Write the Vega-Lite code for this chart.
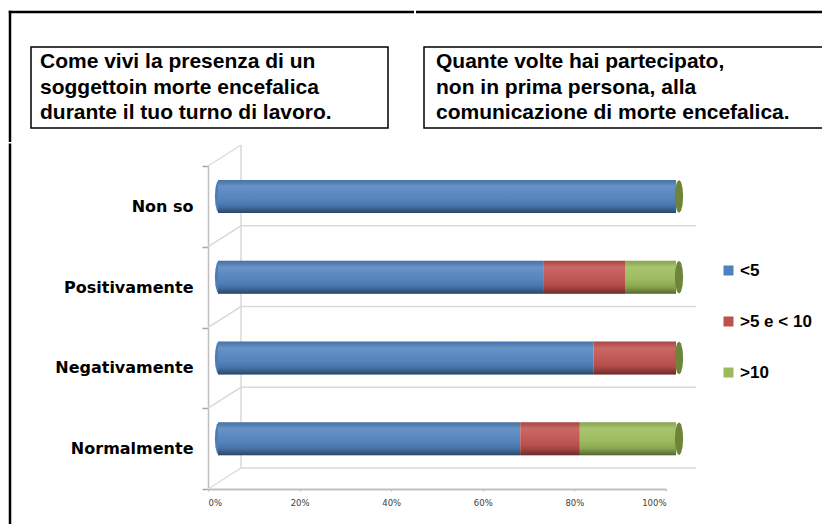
{
  "$schema": "https://vega.github.io/schema/vega-lite/v6.json",
  "padding": {"left": 8, "top": 10, "right": 0, "bottom": 0},
  "background": "white",
  "config": {"view": {"stroke": null}},
  "datasets": {
    "bars": [
      {"cat": "Non so", "series": "<5", "k": 1, "value": 100},
      {"cat": "Non so", "series": ">5 e < 10", "k": 2, "value": 0},
      {"cat": "Non so", "series": ">10", "k": 3, "value": 0},
      {"cat": "Positivamente", "series": "<5", "k": 1, "value": 71},
      {"cat": "Positivamente", "series": ">5 e < 10", "k": 2, "value": 18},
      {"cat": "Positivamente", "series": ">10", "k": 3, "value": 11},
      {"cat": "Negativamente", "series": "<5", "k": 1, "value": 82},
      {"cat": "Negativamente", "series": ">5 e < 10", "k": 2, "value": 18},
      {"cat": "Negativamente", "series": ">10", "k": 3, "value": 0},
      {"cat": "Normalmente", "series": "<5", "k": 1, "value": 66},
      {"cat": "Normalmente", "series": ">5 e < 10", "k": 2, "value": 13},
      {"cat": "Normalmente", "series": ">10", "k": 3, "value": 21}
    ],
    "box1": [
      {"line": 1, "text": "Come vivi la presenza di un"},
      {"line": 2, "text": "soggettoin morte encefalica"},
      {"line": 3, "text": "durante il tuo turno di lavoro."}
    ],
    "box2": [
      {"line": 1, "text": "Quante  volte  hai partecipato,"},
      {"line": 2, "text": "non in prima persona,  alla"},
      {"line": 3, "text": "comunicazione di morte encefalica."}
    ],
    "frame": [{}]
  },
  "vconcat": [
    {
      "hconcat": [
        {
          "width": 357,
          "height": 81,
          "view": {"stroke": "black", "strokeWidth": 1.5},
          "layer": [
            {
              "data": {"name": "box1"},
              "mark": {"type": "text", "align": "left", "baseline": "middle", "font": "Liberation Sans", "fontWeight": "bold", "fontSize": 21, "color": "black"},
              "encoding": {
                "y": {"field": "line", "type": "ordinal", "axis": null, "scale": {"padding": 0.59}},
                "x": {"value": 9},
                "text": {"field": "text"}
              }
            },
            {
              "data": {"name": "frame"},
              "mark": {"type": "rect", "color": "black", "strokeWidth": 0},
              "encoding": {"x": {"value": -22.25}, "x2": {"value": -19.75}, "y": {"value": -36.25}, "y2": {"value": 95}}
            },
            {
              "data": {"name": "frame"},
              "mark": {"type": "rect", "color": "black", "strokeWidth": 0},
              "encoding": {"x": {"value": -22.25}, "x2": {"value": 383}, "y": {"value": -36.25}, "y2": {"value": -33.75}}
            }
          ]
        },
        {
          "width": 407,
          "height": 81,
          "view": {"stroke": "black", "strokeWidth": 1.5},
          "layer": [
            {
              "data": {"name": "box2"},
              "mark": {"type": "text", "align": "left", "baseline": "middle", "font": "Liberation Sans", "fontWeight": "bold", "fontSize": 21, "color": "black"},
              "encoding": {
                "y": {"field": "line", "type": "ordinal", "axis": null, "scale": {"padding": 0.59}},
                "x": {"value": 12},
                "text": {"field": "text"}
              }
            },
            {
              "data": {"name": "frame"},
              "mark": {"type": "rect", "color": "black", "strokeWidth": 0},
              "encoding": {"x": {"value": -8}, "x2": {"value": 408.5}, "y": {"value": -36.25}, "y2": {"value": -33.75}}
            }
          ]
        }
      ],
      "spacing": 0
    },
    {
      "width": 640,
      "height": 323,
      "view": {"stroke": null},
      "data": {"name": "bars"},
      "layer": [
        {
          "transform": [{"filter": "datum.k == 1"}],
          "mark": {"type": "rule", "color": "#D9D9D9", "strokeWidth": 1.5, "xOffset": 33, "x2Offset": 30, "yOffset": -21},
          "encoding": {
            "y": {"field": "cat", "type": "nominal", "title": null, "bandPosition": 1, "scale": {"domain": ["Non so", "Positivamente", "Negativamente", "Normalmente"], "paddingInner": 0, "paddingOuter": 0}},
            "x": {"datum": 0, "type": "quantitative", "scale": {"domain": [0, 1], "nice": false, "range": [177, 635]}},
            "x2": {"datum": 1}
          }
        },
        {
          "transform": [{"filter": "datum.k == 1"}],
          "mark": {"type": "rule", "color": "#D9D9D9", "strokeWidth": 1.2, "x2Offset": 33, "y2Offset": -21},
          "encoding": {
            "y": {"field": "cat", "type": "nominal", "title": null, "bandPosition": 1, "scale": {"domain": ["Non so", "Positivamente", "Negativamente", "Normalmente"], "paddingInner": 0, "paddingOuter": 0}},
            "y2": {"field": "cat", "bandPosition": 1},
            "x": {"datum": 0, "type": "quantitative", "scale": {"domain": [0, 1], "nice": false, "range": [177, 635]}},
            "x2": {"datum": 0}
          }
        },
        {
          "transform": [{"filter": "datum.k == 1"}],
          "mark": {"type": "rule", "color": "#D9D9D9", "strokeWidth": 1.2, "x2Offset": 33, "y2Offset": -21},
          "encoding": {
            "y": {"field": "cat", "type": "nominal", "title": null, "bandPosition": 0, "scale": {"domain": ["Non so", "Positivamente", "Negativamente", "Normalmente"], "paddingInner": 0, "paddingOuter": 0}},
            "y2": {"field": "cat", "bandPosition": 0},
            "x": {"datum": 0, "type": "quantitative", "scale": {"domain": [0, 1], "nice": false, "range": [177, 635]}},
            "x2": {"datum": 0}
          }
        },
        {
          "transform": [{"filter": "datum.k == 1 && datum.cat == 'Non so'"}],
          "mark": {"type": "rule", "color": "#D9D9D9", "strokeWidth": 1.5, "xOffset": 33, "yOffset": -21, "y2Offset": -21},
          "encoding": {
            "y": {"datum": "Non so", "type": "nominal", "bandPosition": 0, "scale": {"domain": ["Non so", "Positivamente", "Negativamente", "Normalmente"], "paddingInner": 0, "paddingOuter": 0}},
            "y2": {"datum": "Normalmente", "bandPosition": 1},
            "x": {"datum": 0, "type": "quantitative", "scale": {"domain": [0, 1], "nice": false, "range": [177, 635]}}
          }
        },
        {
          "transform": [{"filter": "datum.k == 1"}],
          "mark": {"type": "point", "shape": "M0,-1L0.125,-0.866L0.2165,-0.5L0.25,0L0.2165,0.5L0.125,0.866L0,1L-0.125,0.866L-0.2165,0.5L-0.25,0L-0.2165,-0.5L-0.125,-0.866Z", "size": 1089, "filled": true, "opacity": 1, "color": "#4A7DBA", "xOffset": 11, "yOffset": -10},
          "encoding": {
            "y": {"field": "cat", "type": "nominal", "title": null, "scale": {"domain": ["Non so", "Positivamente", "Negativamente", "Normalmente"], "paddingInner": 0, "paddingOuter": 0}},
            "x": {"datum": 0, "type": "quantitative", "scale": {"domain": [0, 1], "nice": false, "range": [177, 635]}}
          }
        },
        {
          "mark": {"type": "bar", "size": 33, "xOffset": 10, "x2Offset": 12, "yOffset": -10},
          "encoding": {
            "y": {
              "field": "cat", "type": "nominal", "title": null,
              "scale": {"domain": ["Non so", "Positivamente", "Negativamente", "Normalmente"], "paddingInner": 0, "paddingOuter": 0},
              "axis": {"offset": -177, "domain": true, "domainColor": "#BFBFBF", "domainWidth": 1.5, "ticks": true, "tickBand": "extent", "tickSize": 6, "tickColor": "#A6A6A6", "tickWidth": 1.5, "labelFont": "DejaVu Sans", "labelFontWeight": "bold", "labelFontSize": 16, "labelColor": "black", "labelPadding": 9, "grid": false}
            },
            "x": {
              "field": "value", "type": "quantitative", "stack": "normalize", "title": null,
              "scale": {"domain": [0, 1], "nice": false, "range": [177, 635]},
              "axis": {"values": [0, 0.2, 0.4, 0.6, 0.8, 1], "format": ".0%", "grid": false, "domainColor": "#C0C0C0", "domainWidth": 2, "tickColor": "#BFBFBF", "tickSize": 2, "labelFont": "DejaVu Sans", "labelFontSize": 8.5, "labelColor": "#404040", "labelPadding": 7}
            },
            "color": {
              "field": "series", "type": "nominal",
              "scale": {"domain": ["<5", ">5 e < 10", ">10"], "range": ["#4F81BD", "#C0504D", "#9BBB59"]},
              "legend": {"orient": "none", "legendX": 689, "legendY": 96, "title": null, "symbolType": "square", "symbolSize": 100, "symbolStrokeWidth": 0, "labelFont": "Liberation Sans", "labelFontWeight": "bold", "labelFontSize": 17, "labelColor": "black", "labelOffset": 3, "rowPadding": 33, "padding": 0}
            },
            "order": {"field": "k", "type": "quantitative"}
          }
        },
        {
          "mark": {
            "type": "bar", "size": 33, "xOffset": 10, "x2Offset": 12, "yOffset": -10,
            "fill": {"gradient": "linear", "x1": 0, "y1": 0, "x2": 0, "y2": 1, "stops": [
              {"offset": 0, "color": "rgba(0,0,0,0.12)"},
              {"offset": 0.2, "color": "rgba(255,255,255,0.14)"},
              {"offset": 0.45, "color": "rgba(255,255,255,0.06)"},
              {"offset": 0.8, "color": "rgba(0,0,0,0.12)"},
              {"offset": 1, "color": "rgba(0,0,0,0.45)"}
            ]}
          },
          "encoding": {
            "y": {"field": "cat", "type": "nominal", "title": null, "scale": {"domain": ["Non so", "Positivamente", "Negativamente", "Normalmente"], "paddingInner": 0, "paddingOuter": 0}},
            "x": {"field": "value", "type": "quantitative", "stack": "normalize", "title": null, "scale": {"domain": [0, 1], "nice": false, "range": [177, 635]}},
            "detail": {"field": "series"},
            "order": {"field": "k", "type": "quantitative"}
          }
        },
        {
          "transform": [{"filter": "datum.k == 1"}],
          "mark": {"type": "point", "shape": "M0,-1L0.125,-0.866L0.2165,-0.5L0.25,0L0.2165,0.5L0.125,0.866L0,1L-0.125,0.866L-0.2165,0.5L-0.25,0L-0.2165,-0.5L-0.125,-0.866Z", "size": 1089, "filled": true, "opacity": 1, "color": "#6E8539", "xOffset": 13, "yOffset": -10},
          "encoding": {
            "y": {"field": "cat", "type": "nominal", "title": null, "scale": {"domain": ["Non so", "Positivamente", "Negativamente", "Normalmente"], "paddingInner": 0, "paddingOuter": 0}},
            "x": {"datum": 1, "type": "quantitative", "scale": {"domain": [0, 1], "nice": false, "range": [177, 635]}}
          }
        },
        {
          "data": {"name": "frame"},
          "mark": {"type": "rect", "color": "black", "strokeWidth": 0},
          "encoding": {"x": {"value": -22.25}, "x2": {"value": -19.75}, "y": {"value": -22.5}, "y2": {"value": 362}}
        }
      ]
    }
  ],
  "spacing": 0,
  "resolve": {"legend": {"color": "independent"}}
}
